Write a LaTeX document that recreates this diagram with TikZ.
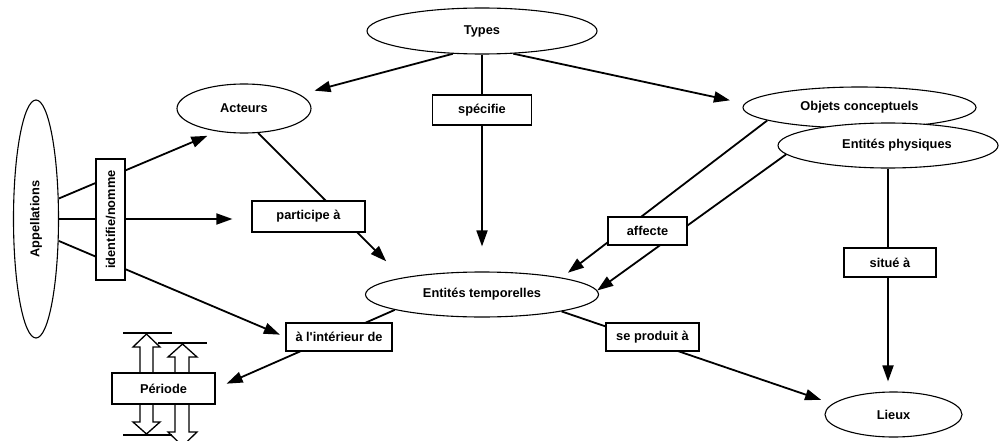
\documentclass[tikz,border=0pt]{standalone}
\usepackage{fontspec}
\setmainfont{Liberation Sans}[Ligatures=TeXOff]
\usetikzlibrary{shapes.geometric,arrows.meta}
\pgfdeclarelayer{bg}
\pgfsetlayers{bg,main}
\begin{document}
\begin{tikzpicture}[x=1pt,y=-1pt,
  every node/.style={font=\fontsize{12.8}{14}\selectfont\bfseries, inner sep=0pt},
  ell/.style={ellipse, draw, line width=1.1pt, fill=white},
  lbl/.style={rectangle, draw, line width=1.2pt, fill=white},
  conn/.style={line width=1.8pt},
  arr/.style={conn, -{Triangle[length=16pt,width=11pt]}},
  deco/.style={line width=1.3pt, fill=white},
]
\useasboundingbox (0,0) rectangle (1000,441);
\clip (0,0) rectangle (1000,441);

% ellipses
\node[ell, minimum width=230pt, minimum height=46pt] (types) at (482,31) {Types};
\node[ell, minimum width=134pt, minimum height=49pt] (acteurs) at (244,108.5) {Acteurs};
\node[ell, minimum width=45pt, minimum height=238pt] (appell) at (36,219) {\rotatebox{90}{Appellations}};
\node[ell, minimum width=233pt, minimum height=41pt] (objets) at (859.5,107.5) {Objets conceptuels};
\node[ell, minimum width=220pt, minimum height=45pt] (physiques) at (888,145.5) {\hspace*{18pt}Entités physiques};
\node[ell, minimum width=233pt, minimum height=45pt] (temp) at (482,294.5) {Entités temporelles};
\node[ell, minimum width=137pt, minimum height=45pt] (lieux) at (893.5,414.5) {Lieux};

% label boxes
\node[lbl, minimum width=99pt, minimum height=30pt] (specifie) at (482,110) {spécifie};
\node[lbl, minimum width=29pt, minimum height=121pt] (identifie) at (110.5,219.5) {\rotatebox{90}{identifie/nomme}};
\node[lbl, minimum width=113pt, minimum height=31pt] (participe) at (308.5,216.5) {participe à};
\node[lbl, minimum width=79pt, minimum height=28pt] (affecte) at (647.5,231) {affecte};
\node[lbl, minimum width=92pt, minimum height=29pt] (situe) at (890,262.5) {situé à};
\node[lbl, minimum width=93pt, minimum height=28pt] (produit) at (652.5,337) {se produit à};
\node[lbl, minimum width=106pt, minimum height=28pt] (interieur) at (339,337) {à l'intérieur de};
\node[lbl, minimum width=103pt, minimum height=31pt] (periode) at (163.5,388.5) {Période};

\begin{pgfonlayer}{bg}
  % connectors
  \draw[arr, shorten >=15pt] (types.218) -- (acteurs.14);
  \draw[arr, shorten >=15pt] (types.324) -- (objets.178);
  \draw[arr, shorten >=25pt] (types.south) -- (temp.north);
  \draw[arr, shorten >=23pt] (acteurs.300) -- (temp.168);
  \draw[arr, shorten >=8pt] (objets.188) -- (temp.12);
  \draw[arr] (physiques.185) -- (temp.2);
  \draw[arr, shorten >=10pt] (physiques.south) -- (physiques.south |- lieux.north);
  \draw[arr, shorten >=12pt] (temp.348) -- (lieux.170);
  \draw[arr, shorten >=12pt] (temp.190) -- (periode.east);
  \draw[arr, shorten >=11pt] (appell.42) -- (acteurs.221);
  \draw[arr, shorten >=19pt] (appell.east) -- (appell.east -| participe.west);
  \draw[arr, shorten >=6pt] (appell.316) -- (interieur.west);

  % period decoration
  \draw[deco] (140,347) -- (133,347) -- (146.5,334) -- (160,347) -- (153,347)
     -- (153,422) -- (160,422) -- (146.5,434) -- (133,422) -- (140,422) -- cycle;
  \draw[deco] (175,357) -- (168,357) -- (182.5,344) -- (197,357) -- (189,357)
     -- (189,432) -- (197,432) -- (182.5,446) -- (168,432) -- (175,432) -- cycle;
  \draw[conn] (123,333) -- (172,333);
  \draw[conn] (158,343) -- (207,343);
  \draw[conn] (123,435) -- (172,435);
  \draw[conn] (158,446) -- (207,446);
\end{pgfonlayer}
\end{tikzpicture}
\end{document}
